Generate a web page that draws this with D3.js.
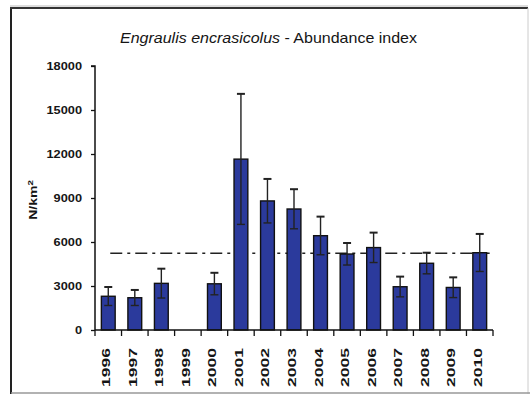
<!DOCTYPE html>
<html>
<head>
<meta charset="utf-8">
<script src="https://cdn.jsdelivr.net/npm/d3@7"></script>
<style>
  html, body { margin: 0; padding: 0; background: #fff; }
  svg { display: block; }
  text { font-family: "Liberation Sans", Arial, sans-serif; fill: #151515; }
</style>
</head>
<body>
<svg id="chart" width="530" height="395"></svg>
<script>
// ---- data ----
const years = ["1996","1997","1998","1999","2000","2001","2002","2003","2004","2005","2006","2007","2008","2009","2010"];
const abundance = [2300, 2200, 3180, 0, 3150, 11650, 8800, 8250, 6430, 5180, 5620, 2950, 4550, 2900, 5270];
const errors    = [630, 530, 1000, 0, 750, 4450, 1500, 1350, 1300, 750, 1020, 690, 720, 690, 1280];
const yTicks = [0, 3000, 6000, 9000, 12000, 15000, 18000];
const meanLevel = 5230;
const titleItalic = "Engraulis encrasicolus";
const titleRest = " - Abundance index";
const yLabel = "N/km";

// ---- layout ----
const svg = d3.select("#chart");
const pLeft = 95, pRight = 493, pTop = 66, pBottom = 330;

const x = d3.scaleBand().domain(years).range([pLeft, pRight]).paddingInner(0.48).paddingOuter(0.24);
const step = x.step();
const y = d3.scaleLinear().domain([0, 18000]).range([pBottom, pTop]);

// frame
svg.append("line").attr("x1", 11).attr("x2", 11).attr("y1", 7).attr("y2", 394).attr("stroke", "#222").attr("stroke-width", 2);
svg.append("line").attr("x1", 10).attr("x2", 528).attr("y1", 8).attr("y2", 8).attr("stroke", "#333").attr("stroke-width", 2);
svg.append("line").attr("x1", 10).attr("x2", 528).attr("y1", 6).attr("y2", 6).attr("stroke", "#bbb").attr("stroke-width", 1);
svg.append("line").attr("x1", 528).attr("x2", 528).attr("y1", 8).attr("y2", 394).attr("stroke", "#ccc").attr("stroke-width", 1);
svg.append("line").attr("x1", 11).attr("x2", 530).attr("y1", 393).attr("y2", 393).attr("stroke", "#999").attr("stroke-width", 1.5);

// title
const title = svg.append("text")
  .attr("x", 268.5).attr("y", 43)
  .attr("text-anchor", "middle")
  .attr("font-size", 14.5)
  .attr("textLength", 297).attr("lengthAdjust", "spacingAndGlyphs");
title.append("tspan").attr("font-style", "italic").text(titleItalic);
title.append("tspan").text(titleRest);

// y axis
const yAxis = d3.axisLeft(y).tickValues(yTicks).tickSize(4).tickPadding(9).tickFormat(d3.format("d"));
const gy = svg.append("g").attr("transform", `translate(${pLeft},0)`).call(yAxis);
gy.select(".domain").attr("stroke", "#111").attr("stroke-width", 1.5).attr("d", `M-4,${pTop}H0V${pBottom}`);
gy.selectAll(".tick line").attr("stroke", "#111").attr("stroke-width", 1.3);
gy.selectAll(".tick text")
  .attr("font-size", 11).attr("font-weight", "bold")
  .style("font-family", "'Liberation Sans', Arial, sans-serif")
  .attr("fill", "#151515")
  .each(function(d) {
    const n = String(d).length;
    d3.select(this).attr("textLength", n * 7.1).attr("lengthAdjust", "spacingAndGlyphs");
  });

// y label
const yl = svg.append("text")
  .attr("transform", "translate(37,200) rotate(-90) scale(1.4,1)")
  .attr("text-anchor", "middle")
  .attr("font-size", 10).attr("font-weight", "bold");
yl.append("tspan").text(yLabel);
yl.append("tspan").attr("font-size", 7).attr("dy", -4).text("2");

// dash-dot mean line (behind bars)
svg.append("line")
  .attr("x1", x(years[0]) + x.bandwidth() / 2 + 2)
  .attr("x2", x(years[years.length - 1]) + x.bandwidth() + 3)
  .attr("y1", y(meanLevel)).attr("y2", y(meanLevel))
  .attr("stroke", "#222").attr("stroke-width", 1.4)
  .attr("stroke-dasharray", "12,5,3,5");

// bars
const data = years.map((yr, i) => ({ yr, v: abundance[i], e: errors[i] }));
svg.append("g").selectAll("rect").data(data.filter(d => d.v > 0)).join("rect")
  .attr("x", d => x(d.yr))
  .attr("y", d => y(d.v))
  .attr("width", x.bandwidth())
  .attr("height", d => y(0) - y(d.v))
  .attr("fill", "#2b3a9c")
  .attr("stroke", "#111").attr("stroke-width", 1.4);

// error bars
const eg = svg.append("g").attr("stroke", "#222").attr("stroke-width", 1.4);
data.filter(d => d.e > 0).forEach(d => {
  const cx = x(d.yr) + x.bandwidth() / 2;
  eg.append("line").attr("x1", cx).attr("x2", cx).attr("y1", y(d.v - d.e)).attr("y2", y(d.v + d.e));
  eg.append("line").attr("x1", cx - 4).attr("x2", cx + 4).attr("y1", y(d.v + d.e)).attr("y2", y(d.v + d.e)).attr("stroke-width", 2);
  eg.append("line").attr("x1", cx - 4).attr("x2", cx + 4).attr("y1", y(d.v - d.e)).attr("y2", y(d.v - d.e));
});

// x axis
svg.append("line").attr("x1", pLeft).attr("x2", pRight).attr("y1", pBottom).attr("y2", pBottom)
  .attr("stroke", "#111").attr("stroke-width", 1.5);
const bounds = d3.range(years.length + 1).map(i => pLeft + i * step);
svg.append("g").selectAll("line").data(bounds).join("line")
  .attr("x1", d => d).attr("x2", d => d)
  .attr("y1", pBottom).attr("y2", pBottom + 6)
  .attr("stroke", "#111").attr("stroke-width", 1.3);

svg.append("g").selectAll("text").data(years).join("text")
  .attr("transform", d => `translate(${x(d) + x.bandwidth() / 2 + 2},348) rotate(-90)`)
  .attr("text-anchor", "end")
  .attr("font-size", 10).attr("font-weight", "bold")
  .attr("textLength", 39).attr("lengthAdjust", "spacingAndGlyphs")
  .text(d => d);
</script>
</body>
</html>
